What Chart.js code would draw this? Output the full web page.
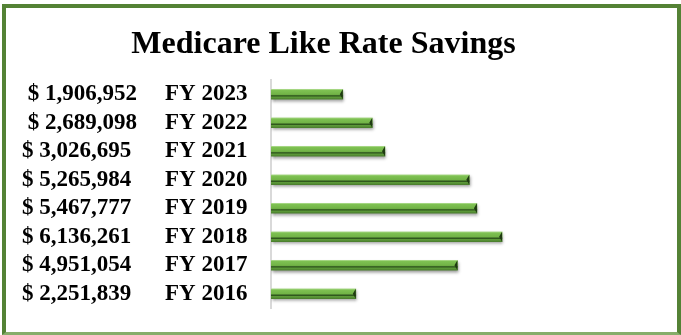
<!DOCTYPE html>
<html>
<head>
<meta charset="utf-8">
<script src="https://cdn.jsdelivr.net/npm/chart.js@4.4.1/dist/chart.umd.min.js"></script>
<style>
    html, body { margin: 0; padding: 0; background: #fff; }
    #frame {
        position: absolute; left: 2px; top: 4px;
        width: 679px; height: 331px; box-sizing: border-box;
        border: 4px solid #548235; border-bottom: 3px solid #86ad6a;
    }
    #chart { position: absolute; left: 0; top: 0; }
</style>
</head>
<body>
<div id="frame"></div>
<canvas id="chart" width="681" height="335"></canvas>
<script>
const years = ['FY 2023', 'FY 2022', 'FY 2021', 'FY 2020', 'FY 2019', 'FY 2018', 'FY 2017', 'FY 2016'];
const savings = [1906952, 2689098, 3026695, 5265984, 5467777, 6136261, 4951054, 2251839];
const savingLabels = [' $ 1,906,952', ' $ 2,689,098', '$ 3,026,695', '$ 5,265,984', '$ 5,467,777', '$ 6,136,261', '$ 4,951,054', '$ 2,251,839'];

const serif = "'Liberation Serif', 'Times New Roman', serif";

// green bevel look, built per bar from the category scale
function barFill(c) {
    const yScale = c.chart.scales.y;
    if (!yScale || c.dataIndex === undefined) return '#6fb044';
    const cy = yScale.getPixelForValue(c.dataIndex);
    if (!isFinite(cy)) return '#6fb044';
    const g = c.chart.ctx.createLinearGradient(0, cy - 5, 0, cy + 5);
    g.addColorStop(0, '#aedb8e');
    g.addColorStop(0.12, '#7ec152');
    g.addColorStop(0.52, '#71b346');
    g.addColorStop(0.6, '#3f6d28');
    g.addColorStop(0.68, '#2f561c');
    g.addColorStop(0.78, '#5e9c3a');
    g.addColorStop(1, '#4a7d2d');
    return g;
}

const bevel = {
    id: 'bevel',
    beforeDatasetsDraw(chart) {
        const ctx = chart.ctx;
        ctx.save();
        ctx.shadowColor = 'rgba(0,0,0,0.4)';
        ctx.shadowBlur = 3;
        ctx.shadowOffsetX = 1;
        ctx.shadowOffsetY = 2;
    },
    afterDatasetsDraw(chart) {
        const ctx = chart.ctx;
        ctx.restore();
        const meta = chart.getDatasetMeta(0);
        meta.data.forEach(function (bar) {
            const p = bar.getProps(['x', 'y', 'height'], true);
            const h = p.height / 2;
            ctx.beginPath();
            ctx.moveTo(p.x, p.y - h);
            ctx.lineTo(p.x - 3, p.y);
            ctx.lineTo(p.x, p.y + h);
            ctx.closePath();
            ctx.fillStyle = '#1f3a12';
            ctx.fill();
        });
    }
};

new Chart(document.getElementById('chart'), {
    type: 'bar',
    data: {
        labels: years,
        datasets: [{
            data: savings,
            backgroundColor: barFill,
            borderWidth: 0,
            barThickness: 10
        }]
    },
    options: {
        indexAxis: 'y',
        responsive: false,
        animation: false,
        devicePixelRatio: 1,
        layout: { padding: { left: 22, right: 56, top: 0, bottom: 27 } },
        plugins: {
            legend: { display: false },
            tooltip: { enabled: false },
            title: {
                display: true,
                text: 'Medicare Like Rate Savings',
                color: '#000',
                font: { family: serif, size: 32, weight: 'bold' },
                padding: { top: 26, bottom: 15.6 }
            }
        },
        scales: {
            x: {
                display: false,
                min: 0,
                max: 9400000
            },
            y: {
                type: 'category',
                position: 'left',
                weight: 0,
                offset: true,
                grid: { display: false },
                border: { display: true, color: '#d9d9d9', width: 2 },
                ticks: {
                    autoSkip: false,
                    crossAlign: 'far',
                    color: '#000',
                    font: { family: serif, size: 23, weight: 'bold' }
                },
                afterFit: function (scale) { scale.width = 106; }
            },
            money: {
                type: 'category',
                position: 'left',
                axis: 'y',
                weight: 1,
                offset: true,
                labels: savingLabels,
                grid: { display: false },
                border: { display: false },
                ticks: {
                    autoSkip: false,
                    crossAlign: 'far',
                    color: '#000',
                    font: { family: serif, size: 23, weight: 'bold' }
                },
                afterFit: function (scale) { scale.width = 143; }
            }
        }
    },
    plugins: [bevel]
});
</script>
</body>
</html>
